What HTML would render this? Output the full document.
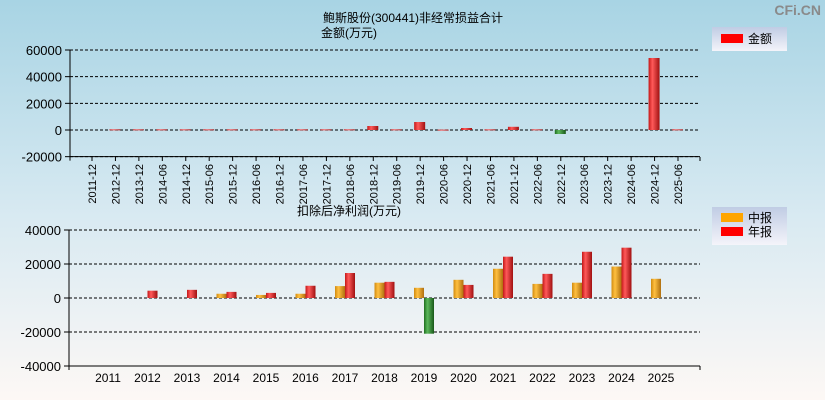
<!DOCTYPE html>
<html><head><meta charset="utf-8"><style>
body{margin:0;width:825px;height:400px;overflow:hidden;font-family:"Liberation Sans","Noto Sans CJK SC",sans-serif}
svg{display:block}
</style></head><body>
<svg id="c" width="825" height="400" xmlns="http://www.w3.org/2000/svg">
<defs>
<linearGradient id="bg" x1="0" y1="0" x2="0" y2="1"><stop offset="0" stop-color="#a8d4e4"/><stop offset="0.55" stop-color="#d9eaf2"/><stop offset="1" stop-color="#fdf8f5"/></linearGradient>
<linearGradient id="gr" x1="0" x2="1"><stop offset="0" stop-color="#c41818"/><stop offset="0.35" stop-color="#ff5a5a"/><stop offset="1" stop-color="#a01010"/></linearGradient>
<linearGradient id="go" x1="0" x2="1"><stop offset="0" stop-color="#d08a10"/><stop offset="0.35" stop-color="#ffc040"/><stop offset="1" stop-color="#b07010"/></linearGradient>
<linearGradient id="gg" x1="0" x2="1"><stop offset="0" stop-color="#1e6e1e"/><stop offset="0.35" stop-color="#5cb85c"/><stop offset="1" stop-color="#185818"/></linearGradient>
<linearGradient id="lg" x1="0" y1="0" x2="0" y2="1"><stop offset="0" stop-color="#c0cce4"/><stop offset="1" stop-color="#f4f4fa"/></linearGradient>
</defs>
<rect width="825" height="400" fill="url(#bg)"/>
<text x="821" y="15" font-size="14" font-weight="bold" fill="#8a8a8a" text-anchor="end">CFi.CN</text>
<text x="323" y="22" font-size="12">鲍斯股份(300441)非经常损益合计</text>
<text x="321" y="37" font-size="12">金额(万元)</text>
<g><rect x="712" y="27" width="75" height="24" fill="url(#lg)"/><rect x="721" y="34" width="22" height="9" fill="#f00"/><text x="748" y="43" font-size="12">金额</text></g>
<text x="297" y="215" font-size="12">扣除后净利润(万元)</text>
<g><rect x="712" y="207" width="75" height="38" fill="url(#lg)"/><rect x="721" y="213" width="22" height="9" fill="#ffa500"/><text x="748" y="222" font-size="12">中报</text><rect x="721" y="227" width="22" height="9" fill="#f00"/><text x="748" y="236" font-size="12">年报</text></g>
<g id="top"></g><g id="bot"></g>
</svg>
<script>
const topCats=["2011-12","2012-12","2013-12","2014-06","2014-12","2015-06","2015-12","2016-06","2016-12","2017-06","2017-12","2018-06","2018-12","2019-06","2019-12","2020-06","2020-12","2021-06","2021-12","2022-06","2022-12","2023-06","2023-12","2024-06","2024-12","2025-06"];
const topVals=[0,500,500,500,500,500,500,500,500,500,500,500,3000,500,6000,300,1500,500,2400,500,-3000,0,0,0,54000,500];
const topTicks=[60000,40000,20000,0,-20000];
const botYears=["2011","2012","2013","2014","2015","2016","2017","2018","2019","2020","2021","2022","2023","2024","2025"];
const botMid=[null,null,null,2500,1800,2500,7000,9000,6000,10700,17200,8300,9000,18500,11300];
const botAnn=[null,4300,4800,3600,3000,7200,14700,9500,-21000,7700,24300,14200,27200,29600,null];
const botTicks=[40000,20000,0,-20000,-40000];
const NS="http://www.w3.org/2000/svg";
function mk(p,t,a){const e=document.createElementNS(NS,t);for(const k in a)e.setAttribute(k,a[k]);p.appendChild(e);return e;}
function axes(g,x0,x1,yS,ticks){
  ticks.forEach(t=>{const y=yS(t);
    const l=mk(g,'line',{x1:x0,x2:x1,y1:y,y2:y,stroke:'#000','stroke-dasharray':'3,2'});
    
    
    mk(g,'line',{x1:x0-5,x2:x0,y1:y,y2:y,stroke:'#000'});
    const tx=mk(g,'text',{x:x0-8,y:y+5,'text-anchor':'end','font-size':'13'});tx.textContent=t;
    
    
  });
  const lo=yS(ticks[ticks.length-1]);
  mk(g,'line',{x1:x0,x2:x0,y1:yS(ticks[0]),y2:lo+4,stroke:'#000'});
  mk(g,'line',{x1:x0,x2:x1,y1:lo,y2:lo,stroke:'#000'});
}
function bar(g,x,w,v,yS,fill,name){
  const y0=yS(0),y=yS(v);
  const r=mk(g,'rect',{x:x,y:Math.min(y,y0),width:w,height:Math.max(Math.abs(y-y0),1),fill:v<0?'url(#gg)':fill});
  
  
}
const T=document.getElementById('top');
const tY=v=>130-v/20000*26.67;
axes(T,70,700,tY,topTicks);
const tx0=92,tdx=(678-92)/(topCats.length-1);
topCats.forEach((c,i)=>{
  const cx=tx0+i*tdx;
  mk(T,'line',{x1:cx,x2:cx,y1:157,y2:161,stroke:'#000'});
  const t=mk(T,'text',{x:0,y:0,'font-size':'11','text-anchor':'end',transform:`translate(${cx+4},164) rotate(-90)`});t.textContent=c;
  
  
  if(topVals[i]!==0)bar(T,cx-6,11,topVals[i],tY,'url(#gr)','bar-'+c);
});
mk(T,'line',{x1:700,x2:700,y1:157,y2:161,stroke:'#000'});
const B=document.getElementById('bot');
const bY=v=>298-v/10000*17;
axes(B,69,700,bY,botTicks);
const bx0=108,bdx=(661-108)/(botYears.length-1);
botYears.forEach((y,i)=>{
  const cx=bx0+i*bdx;
  const t=mk(B,'text',{x:cx,y:382,'font-size':'12','text-anchor':'middle'});t.textContent=y;
  
  
  if(botMid[i]!==null)bar(B,cx-10,10,botMid[i],bY,'url(#go)','bar-mid-'+y);
  if(botAnn[i]!==null)bar(B,cx,10,botAnn[i],bY,'url(#gr)','bar-annual-'+y);
});
mk(B,'line',{x1:700,x2:700,y1:366,y2:370,stroke:'#000'});
</script>
</body></html>
